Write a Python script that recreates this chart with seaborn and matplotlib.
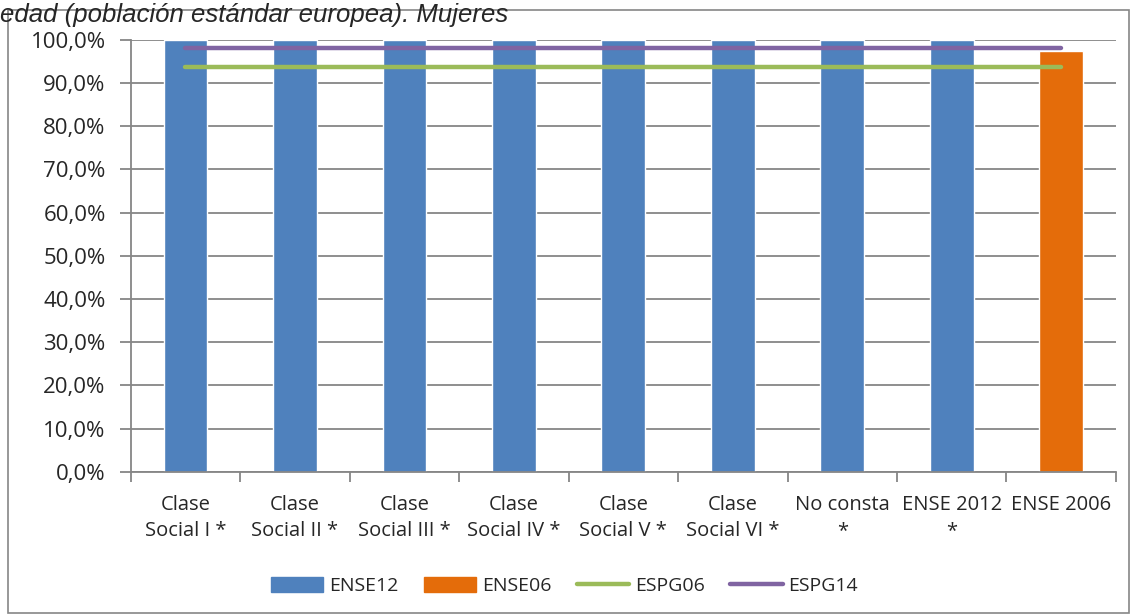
import numpy as np
import pandas as pd
import matplotlib
matplotlib.use("Agg")
import matplotlib.pyplot as plt
import seaborn as sns
from matplotlib.patches import Rectangle, Patch
from matplotlib.lines import Line2D
from matplotlib.ticker import FuncFormatter, MultipleLocator

# Data
categories = ["Clase\nSocial I *", "Clase\nSocial II *", "Clase\nSocial III *",
              "Clase\nSocial IV *", "Clase\nSocial V *", "Clase\nSocial VI *",
              "No consta\n*", "ENSE 2012\n*", "ENSE 2006"]
ense12 = [100.0, 100.0, 100.0, 100.0, 100.0, 100.0, 100.0, 100.0, np.nan]
ense06 = [np.nan, np.nan, np.nan, np.nan, np.nan, np.nan, np.nan, np.nan, 97.4]
espg06 = [93.8] * 9
espg14 = [98.2] * 9

title = "edad (población estándar europea). Mujeres"

df = pd.DataFrame({
    "cat": categories * 2,
    "valor": ense12 + ense06,
    "serie": ["ENSE12"] * 9 + ["ENSE06"] * 9,
})

sns.set_style("white")
plt.rcParams["font.family"] = ["Open Sans", "DejaVu Sans"]

fig = plt.figure(figsize=(11.31, 6.14), dpi=100)
ax = fig.add_axes([0.1156, 0.2318, 0.8711, 0.7031])

colors = {"ENSE12": "#4f81bd", "ENSE06": "#e46c0a"}
sns.barplot(data=df, x="cat", y="valor", hue="serie", palette=colors,
            dodge=False, width=0.4, ax=ax, legend=False, saturation=1)

xpos = np.arange(len(categories))
sns.lineplot(x=xpos, y=espg06, color="#9bbb59", linewidth=3.2, ax=ax,
             solid_capstyle="round")
sns.lineplot(x=xpos, y=espg14, color="#8064a2", linewidth=3.2, ax=ax,
             solid_capstyle="round")

ax.set_xlim(-0.5, len(categories) - 0.5)
ax.set_ylim(0, 100)
ax.yaxis.set_major_locator(MultipleLocator(10))
ax.yaxis.set_major_formatter(FuncFormatter(lambda v, p: f"{v:.1f}%".replace(".", ",")))
ax.grid(axis="y", color="#868686", linewidth=1.3)
ax.set_axisbelow(True)
ax.set_xlabel("")
ax.set_ylabel("")

for s in ["top", "right"]:
    ax.spines[s].set_visible(False)
for s in ["left", "bottom"]:
    ax.spines[s].set_color("#868686")
    ax.spines[s].set_linewidth(1.3)

ax.tick_params(axis="y", left=True, length=8, color="#868686", width=1.3,
               labelsize=16, pad=10)
ax.set_xticks(xpos)
ax.set_xticklabels(categories, fontsize=14.5, linespacing=1.45)
ax.tick_params(axis="x", bottom=False, pad=13)
# tick marks between categories
ax.set_xticks(np.arange(len(categories) + 1) - 0.5, minor=True)
ax.tick_params(axis="x", which="minor", bottom=True, length=7, color="#868686", width=1.3)

handles = [Patch(color=colors["ENSE12"]), Patch(color=colors["ENSE06"]),
           Line2D([], [], color="#9bbb59", linewidth=3.2, solid_capstyle="round"),
           Line2D([], [], color="#8064a2", linewidth=3.2, solid_capstyle="round")]
fig.legend(handles, ["ENSE12", "ENSE06", "ESPG06", "ESPG14"], loc="center",
           bbox_to_anchor=(0.499, 0.045), ncol=4, frameon=False, fontsize=14,
           handlelength=2.7, handleheight=0.75, handletextpad=0.3, columnspacing=1.3)

fig.patches.append(Rectangle((8 / 1131, 1 / 614), 1121 / 1131, 603 / 614,
                             transform=fig.transFigure, fill=False,
                             edgecolor="#868686", linewidth=1.2))

fig.text(0.0, 1.0 - 22 / 614, title, fontsize=18.5, style="italic", ha="left",
         va="baseline", family=["Liberation Sans", "DejaVu Sans"])

fig.savefig("out.png", dpi=100)
